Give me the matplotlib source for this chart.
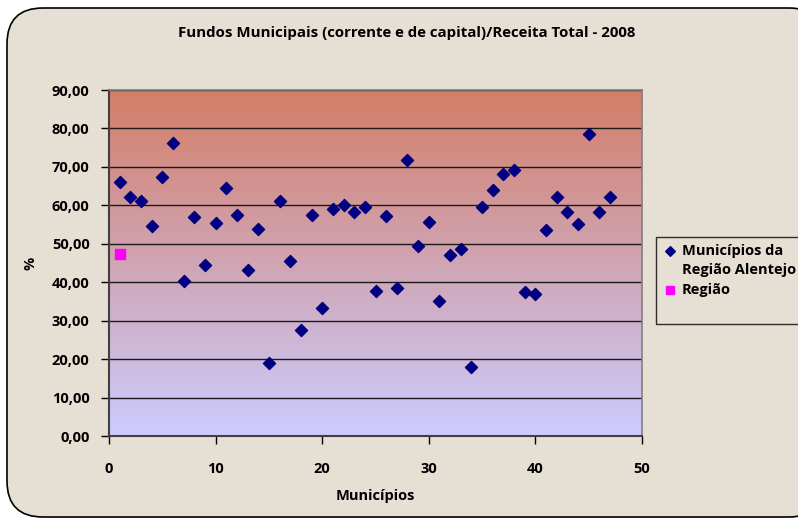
import numpy as np
import matplotlib
matplotlib.use("Agg")
import matplotlib.pyplot as plt
from matplotlib.patches import FancyBboxPatch
from matplotlib.lines import Line2D

municipios = list(range(1, 48))
valores = [66.1, 62.2, 61.1, 54.6, 67.4, 76.2, 40.3, 57.0, 44.5, 55.4,
           64.5, 57.5, 43.2, 53.8, 19.0, 61.1, 45.5, 27.6, 57.5, 33.3,
           59.1, 60.1, 58.3, 59.6, 37.7, 57.2, 38.5, 71.8, 49.4, 55.7,
           35.1, 47.1, 48.6, 17.9, 59.6, 64.0, 68.2, 69.2, 37.5, 36.9,
           53.6, 62.2, 58.3, 55.2, 78.6, 58.3, 62.2]
regiao_x = [1]
regiao_y = [47.3]
yticks = [0, 10, 20, 30, 40, 50, 60, 70, 80, 90]
xticks = [0, 10, 20, 30, 40, 50]

plt.rcParams['font.family'] = ['Open Sans', 'DejaVu Sans']

W, H = 798, 520
fig = plt.figure(figsize=(W/100, H/100), dpi=100)
fig.patch.set_facecolor('white')
bg = FancyBboxPatch((7/W, 3/H), (W + 20)/W, (H-11)/H,
                    boxstyle="round,pad=0,rounding_size=0.045",
                    transform=fig.transFigure, facecolor='#E6DFD3',
                    edgecolor='black', linewidth=1.2, mutation_aspect=W/H,
                    zorder=-10)
fig.patches.append(bg)

ax = fig.add_axes([109/W, 1-436/H, (642-109)/W, (436-90)/H])
ax.set_xlim(0, 50)
ax.set_ylim(0, 90)

top = np.array([212, 126, 104]) / 255
bot = np.array([204, 204, 255]) / 255
t = np.linspace(0, 1, 256)[:, None]
grad = (top[None, :] * (1 - t) + bot[None, :] * t)[:, None, :]
ax.imshow(grad, extent=[0, 50, 0, 90], aspect='auto', zorder=0)

for y in yticks[1:]:
    ax.axhline(y, color='#1a1a1a', linewidth=1.0, zorder=1)

h1 = ax.scatter(municipios, valores, marker='D', s=38, color='#000080', zorder=3)
h2 = ax.scatter(regiao_x, regiao_y, marker='s', s=55, color='#FF00FF', zorder=3)

ax.set_xticks(xticks)
ax.set_yticks(yticks)
ax.set_yticklabels([f"{v:.2f}".replace('.', ',') for v in yticks])
ax.tick_params(axis='both', labelsize=10.5, direction='out', length=6, width=1)
for lbl in ax.get_xticklabels() + ax.get_yticklabels():
    lbl.set_fontweight('bold')
ax.tick_params(axis='x', pad=13)
ax.tick_params(axis='y', pad=8)

for s in ['left', 'bottom']:
    ax.spines[s].set_color('#404040')
    ax.spines[s].set_linewidth(1.5)
for s in ['top', 'right']:
    ax.spines[s].set_color('#808080')
    ax.spines[s].set_linewidth(1.2)

ax.set_xlabel('Municípios', fontsize=10.5, fontweight='bold', labelpad=9)
ax.set_ylabel('%', fontsize=10.5, fontweight='bold', labelpad=10)

fig.text(407/W, 1 - 33/H, 'Fundos Municipais (corrente e de capital)/Receita Total - 2008',
         ha='center', va='center', fontsize=10.8, fontweight='bold')

blank = Line2D([], [], linestyle='none', marker='none')
leg = fig.legend([h1, blank, h2, blank],
                 ['Municípios da', 'Região Alentejo', 'Região', ' '],
                 loc='upper left', bbox_to_anchor=(656/W, 1 - 237/H),
                 frameon=True, prop={'weight': 'bold', 'size': 10.5},
                 handletextpad=0.3, borderpad=0.45, handlelength=1.0,
                 labelspacing=0.4, fancybox=False, borderaxespad=0,
                 markerscale=0.8)
leg.get_frame().set_edgecolor('black')
leg.get_frame().set_facecolor('none')
leg.get_frame().set_linewidth(1.0)

fig.savefig('out.png', dpi=100)
